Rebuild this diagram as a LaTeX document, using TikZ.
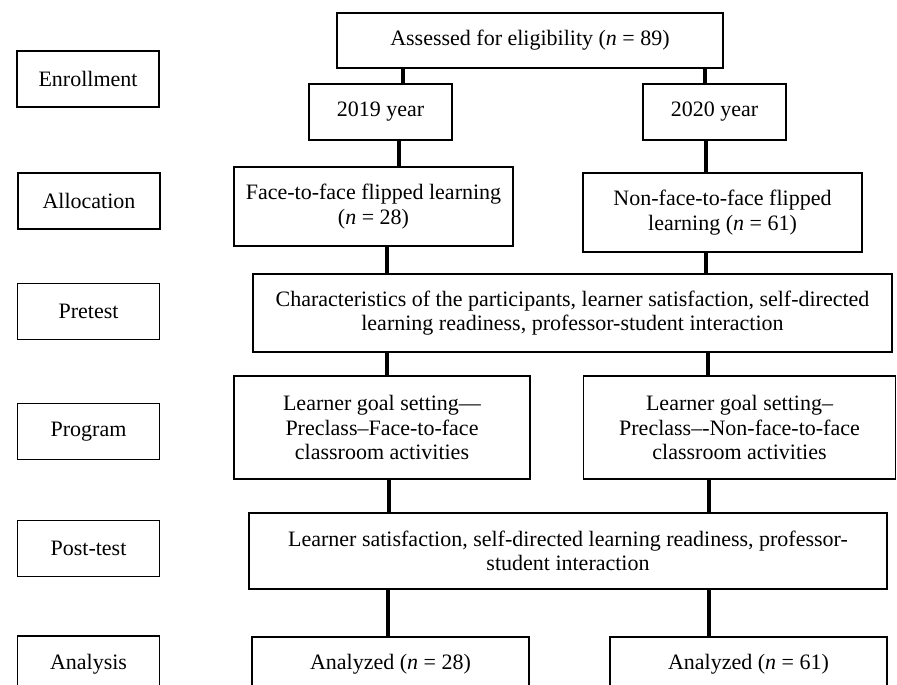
\documentclass[tikz,border=0pt]{standalone}
\usepackage{fontspec}
\setmainfont{Liberation Serif}
\begin{document}
\begin{tikzpicture}[x=1pt,y=-1pt,
  box/.style={draw, line width=1.7pt, inner sep=0pt, align=center, font=\fontsize{22}{24.5}\selectfont},
  lab/.style={box, minimum width=142pt, minimum height=56pt},
  conn/.style={line width=3.4pt}]
\useasboundingbox (0,0) rectangle (897,685);
\clip (0,0) rectangle (897,685);
% stage labels
\node[lab] (lenr) at (88,79) {Enrollment};
\node[lab] (lall) at (89,201) {Allocation};
\node[lab] (lpre) at (88.5,311.5) {Pretest};
\node[lab] (lprog) at (88.5,431.5) {Program};
\node[lab] (lpost) at (88.5,548.5) {Post-test};
\node[lab] (lana) at (88.5,664) {Analysis};
% main boxes
\node[box, minimum width=386pt, minimum height=55pt] (assess) at (530,40.5) {Assessed for eligibility (\textit{n} = 89)};
\node[box, minimum width=143pt, minimum height=56pt] (y19) at (380.5,112) {2019 year};
\node[box, minimum width=143pt, minimum height=56pt] (y20) at (714.5,112) {2020 year};
\node[box, minimum width=279pt, minimum height=79pt] (f2f) at (373.5,206.5) {Face-to-face flipped learning\\(\textit{n} = 28)};
\node[box, minimum width=279pt, minimum height=79pt] (nf2f) at (722.5,212.5) {Non-face-to-face flipped\\learning (\textit{n} = 61)};
\node[box, minimum width=639pt, minimum height=78pt] (pre) at (572.5,313) {Characteristics of the participants, learner satisfaction, self-directed\\learning readiness, professor-student interaction};
\node[box, minimum width=296pt, minimum height=103pt] (progl) at (382,427.5) {Learner goal setting—\\Preclass–Face-to-face\\classroom activities};
\node[box, minimum width=312pt, minimum height=103pt] (progr) at (739.5,427.5) {Learner goal setting–\\Preclass–{-}Non-face-to-face\\classroom activities};
\node[box, minimum width=638pt, minimum height=76pt] (post) at (568,551) {Learner satisfaction, self-directed learning readiness, professor-\\student interaction};
\node[box, minimum width=277pt, minimum height=55pt] (anl) at (390.5,664.5) {Analyzed (\textit{n} = 28)};
\node[box, minimum width=277pt, minimum height=55pt] (anr) at (748.5,664.5) {Analyzed (\textit{n} = 61)};
% connector columns
\coordinate (xa) at (403,0);
\coordinate (xb) at (705,0);
\coordinate (xc) at (399,0);
\coordinate (xd) at (706,0);
\coordinate (xe) at (387,0);
\coordinate (xf) at (708,0);
\coordinate (xg) at (389,0);
\coordinate (xh) at (709,0);
\coordinate (xi) at (388,0);
\draw[conn] (assess.south -| xa) -- (y19.north -| xa);
\draw[conn] (assess.south -| xb) -- (y20.north -| xb);
\draw[conn] (y19.south -| xc) -- (f2f.north -| xc);
\draw[conn] (y20.south -| xd) -- (nf2f.north -| xd);
\draw[conn] (f2f.south -| xe) -- (pre.north -| xe);
\draw[conn] (nf2f.south -| xd) -- (pre.north -| xd);
\draw[conn] (pre.south -| xe) -- (progl.north -| xe);
\draw[conn] (pre.south -| xf) -- (progr.north -| xf);
\draw[conn] (progl.south -| xg) -- (post.north -| xg);
\draw[conn] (progr.south -| xh) -- (post.north -| xh);
\draw[conn] (post.south -| xi) -- (anl.north -| xi);
\draw[conn] (post.south -| xh) -- (anr.north -| xh);
\end{tikzpicture}
\end{document}
